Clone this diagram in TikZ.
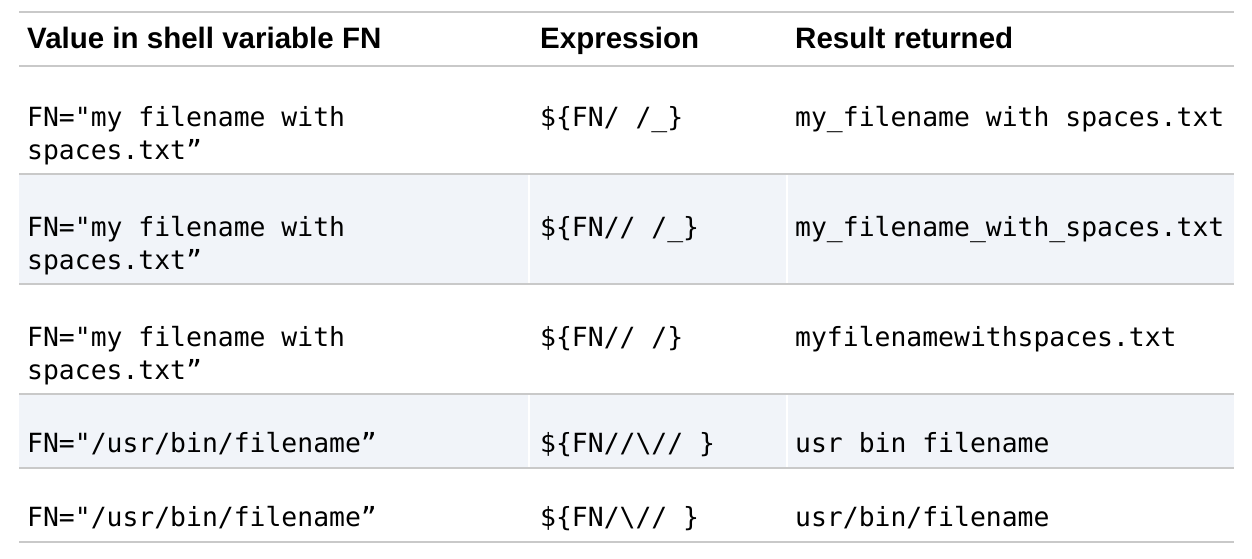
\documentclass[tikz,border=0pt]{standalone}
\usepackage{fontspec}
\setmainfont{Liberation Sans}
\setmonofont{DejaVu Sans Mono}
\definecolor{rulegray}{HTML}{C9C9C9}
\definecolor{bandblue}{HTML}{F1F4F9}

\begin{document}
\begin{tikzpicture}[x=1pt, y=-1pt,
    head/.style={anchor=base west, inner sep=0pt, font=\fontsize{29.5}{34}\selectfont\bfseries},
    cell/.style={anchor=base west, inner sep=0pt, align=left, font=\fontsize{26.4}{33}\selectfont\ttfamily}]

    %page size
    \fill[white] (0,0) rectangle (1252,558);

    %shaded rows
    \fill[bandblue] (19,174) rectangle (1234,284);
    \fill[bandblue] (19,394) rectangle (1234,468);
    \foreach \xs in {529,787}
        \draw[white, line width=1.2pt] (\xs,174) -- (\xs,284) (\xs,394) -- (\xs,468);

    %rules
    \foreach \ys in {11.5,65.5,174,284,394,468,542}
        \draw[rulegray, line width=2pt] (19,\ys) -- (1234,\ys);

    %define the header
    \node[head] (h1) at (27,48) {Value in shell variable FN};
    \node[head] (h2) at (540,48) {Expression};
    \node[head] (h3) at (795,48) {Result returned};

    %define the rows (two-line cells sit on their last line)
    \node[cell] (v1) at (27,159) {FN="my filename with\\spaces.txt”};
    \node[cell] (e1) at (540,126) {\$\{FN/ /\_\}};
    \node[cell] (r1) at (795,126) {my\_filename with spaces.txt};

    \node[cell] (v2) at (27,269) {FN="my filename with\\spaces.txt”};
    \node[cell] (e2) at (540,236) {\$\{FN// /\_\}};
    \node[cell] (r2) at (795,236) {my\_filename\_with\_spaces.txt};

    \node[cell] (v3) at (27,379) {FN="my filename with\\spaces.txt”};
    \node[cell] (e3) at (540,346) {\$\{FN// /\}};
    \node[cell] (r3) at (795,346) {myfilenamewithspaces.txt};

    \node[cell] (v4) at (27,452) {FN="/usr/bin/filename”};
    \node[cell] (e4) at (540,452) {\$\{FN//\textbackslash// \}};
    \node[cell] (r4) at (795,452) {usr bin filename};

    \node[cell] (v5) at (27,526) {FN="/usr/bin/filename”};
    \node[cell] (e5) at (540,526) {\$\{FN/\textbackslash// \}};
    \node[cell] (r5) at (795,526) {usr/bin/filename};
\end{tikzpicture}
\end{document}
